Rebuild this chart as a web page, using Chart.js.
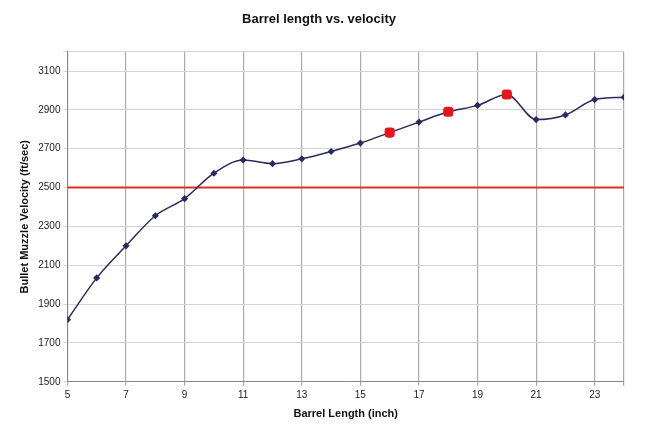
<!DOCTYPE html>
<html><head><meta charset="utf-8">
<script src="https://cdn.jsdelivr.net/npm/chart.js@4"></script>
<style>html,body{margin:0;background:#fff}#w{width:650px;height:433px}</style>
</head><body><div id="w"><canvas id="c"></canvas></div>
<script>
const lengths=[5,6,7,8,9,10,11,12,13,14,15,16,17,18,19,20,21,22,23,24];
const velocities=[1820,2035,2200,2355,2443,2574,2642,2623,2648,2686,2729,2783,2837,2890,2923,2979,2850,2874,2953,2965];
const highlighted=[16,18,20];
const reference=2500;
const xTicks=[5,7,9,11,13,15,17,19,21,23,24];
const yTicks=[1500,1700,1900,2100,2300,2500,2700,2900,3100,3200];
const pts=lengths.map((x,i)=>({x,y:velocities[i]}));
const hl=x=>highlighted.includes(x);
new Chart(document.getElementById('c'),{
type:'line',
data:{datasets:[
{data:pts,borderColor:'#2b2a5e',borderWidth:1.5,cubicInterpolationMode:'monotone',
 pointRadius:c=>hl(c.raw.x)?5:2.5,pointStyle:c=>hl(c.raw.x)?'rectRounded':'rectRot',
 pointBackgroundColor:c=>hl(c.raw.x)?'#e8141c':'#2b2a5e',pointBorderColor:c=>hl(c.raw.x)?'#e8141c':'#2b2a5e'},
{data:[{x:lengths[0],y:reference},{x:lengths[lengths.length-1],y:reference}],borderColor:'#d9321f',borderWidth:2,pointRadius:0}
]},
options:{responsive:true,maintainAspectRatio:false,animation:false,
layout:{padding:{left:14,right:26,top:8,bottom:8}},
plugins:{legend:{display:false},tooltip:{enabled:false},
 title:{display:true,text:'Barrel length vs. velocity',color:'#111',font:{family:'Liberation Sans',size:13,weight:'bold'},padding:{top:4,bottom:24}}},
scales:{
x:{type:'linear',min:5,max:24,afterBuildTicks:a=>{a.ticks=xTicks.map(v=>({value:v}));},
 ticks:{color:'#222',font:{family:'Liberation Sans',size:10},callback:v=>v===24?'':v},
 grid:{color:'#aaa',lineWidth:1.2,tickLength:4},border:{color:'#888'},
 title:{display:true,text:'Barrel Length (inch)',color:'#111',font:{family:'Liberation Sans',size:11,weight:'bold'},padding:{top:4}}},
y:{min:1500,max:3200,afterBuildTicks:a=>{a.ticks=yTicks.map(v=>({value:v}));},
 ticks:{color:'#222',font:{family:'Liberation Sans',size:10},callback:v=>v>3100?'':v},
 grid:{color:'#d4d4d4',tickLength:4},border:{color:'#888'},
 title:{display:true,text:'Bullet Muzzle Velocity (ft/sec)',color:'#111',font:{family:'Liberation Sans',size:11,weight:'bold'}}}
}}});
</script></body></html>
